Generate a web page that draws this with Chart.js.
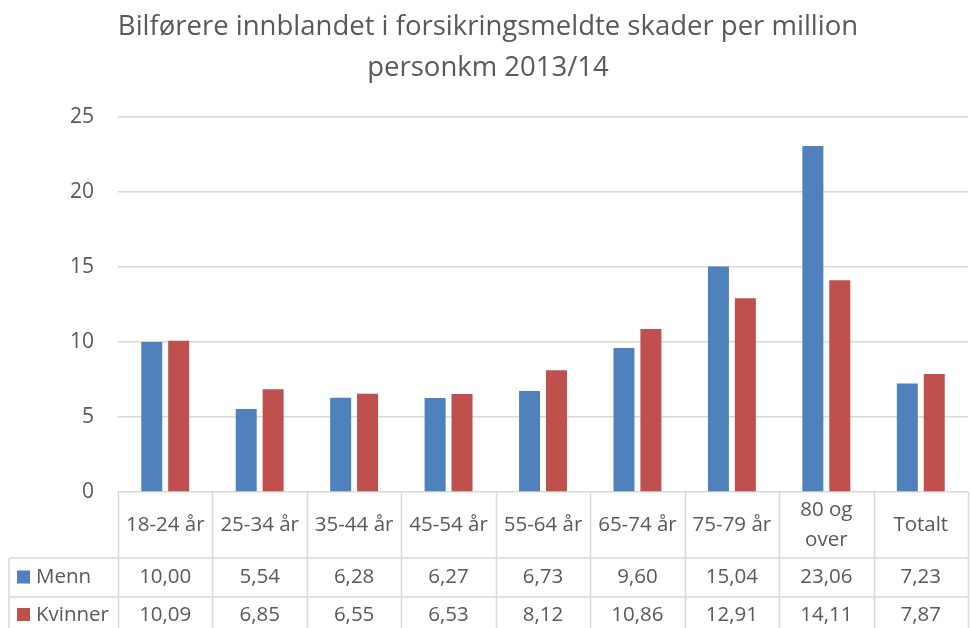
<!DOCTYPE html>
<html>
<head>
<meta charset="utf-8">
<script src="https://cdn.jsdelivr.net/npm/chart.js@4/dist/chart.umd.min.js"></script>
<style>
  html, body { margin: 0; padding: 0; background: #fff; }
  #wrap { width: 971px; height: 628px; }
</style>
</head>
<body>
<div id="wrap"><canvas id="skadeChart" width="971" height="628"></canvas></div>
<script>
const categories = ['18-24 år', '25-34 år', '35-44 år', '45-54 år', '55-64 år', '65-74 år', '75-79 år', ['80 og', 'over'], 'Totalt'];
const menn = [10.00, 5.54, 6.28, 6.27, 6.73, 9.60, 15.04, 23.06, 7.23];
const kvinner = [10.09, 6.85, 6.55, 6.53, 8.12, 10.86, 12.91, 14.11, 7.87];
const seriesNames = ['Menn', 'Kvinner'];
const titleLines = ['Bilførere innblandet i forsikringsmeldte skader per million', 'personkm 2013/14'];

const FONT = '"Open Sans", Lato, sans-serif';
const TEXT = '#595959';
const LINE = '#d9d9d9';

function fmt(v) {
    return v.toFixed(2).replace('.', ',');
}

// title + data table under the plot
const tablePlugin = {
    id: 'dataTable',
    afterDraw(chart) {
        const ctx = chart.ctx;
        const x = chart.scales.x;
        const area = chart.chartArea;
        const n = categories.length;
        const colW = (area.right - area.left) / n;
        const top = area.bottom;
        const row1 = top + 66;
        const row2 = row1 + 39;
        const bottom = chart.height;
        const leftEdge = 9;

        ctx.save();
        ctx.fillStyle = TEXT;
        ctx.textAlign = 'center';
        ctx.textBaseline = 'middle';
        ctx.font = '27.5px ' + FONT;
        ctx.fillText(titleLines[0], 488, 27);
        ctx.fillText(titleLines[1], 488, 68);

        ctx.strokeStyle = LINE;
        ctx.lineWidth = 1.5;
        ctx.beginPath();
        for (let i = 0; i <= n; i++) {
            const px = Math.round(area.left + i * colW) + 0.5;
            ctx.moveTo(px, top);
            ctx.lineTo(px, bottom);
        }
        ctx.moveTo(leftEdge, row1);
        ctx.lineTo(leftEdge, bottom);
        ctx.moveTo(leftEdge, row1);
        ctx.lineTo(area.right, row1);
        ctx.moveTo(leftEdge, row2);
        ctx.lineTo(area.right, row2);
        ctx.stroke();

        ctx.font = '20.5px ' + FONT;
        ctx.fillStyle = TEXT;
        categories.forEach(function(c, i) {
            const cx = x.getPixelForValue(i);
            const cy = (top + row1) / 2;
            if (Array.isArray(c)) {
                ctx.fillText(c[0], cx, cy - 15);
                ctx.fillText(c[1], cx, cy + 15);
            } else {
                ctx.fillText(c, cx, cy);
            }
            ctx.fillText(fmt(menn[i]), cx, (row1 + row2) / 2);
            ctx.fillText(fmt(kvinner[i]), cx, row2 + 18);
        });

        const rows = [[seriesNames[0], '#4F81BD', (row1 + row2) / 2], [seriesNames[1], '#C0504D', row2 + 18]];
        rows.forEach(function(r) {
            ctx.fillStyle = r[1];
            ctx.fillRect(17, r[2] - 7, 13, 13);
            ctx.fillStyle = TEXT;
            ctx.textAlign = 'left';
            ctx.fillText(r[0], 36, r[2]);
        });
        ctx.restore();
    }
};

const ctx = document.getElementById('skadeChart').getContext('2d');
const skadeChart = new Chart(ctx, {
    type: 'bar',
    data: {
        labels: categories,
        datasets: [{
            label: seriesNames[0],
            data: menn,
            backgroundColor: '#4F81BD',
            barPercentage: 0.78,
            categoryPercentage: 0.57
        }, {
            label: seriesNames[1],
            data: kvinner,
            backgroundColor: '#C0504D',
            barPercentage: 0.78,
            categoryPercentage: 0.57
        }]
    },
    options: {
        responsive: false,
        animation: false,
        layout: {
            padding: { top: 117, bottom: 136, left: 0, right: 3 }
        },
        plugins: {
            legend: { display: false },
            title: { display: false },
            tooltip: { enabled: false }
        },
        scales: {
            x: {
                display: false
            },
            y: {
                min: 0,
                max: 25,
                ticks: {
                    stepSize: 5,
                    color: TEXT,
                    font: { family: FONT, size: 21 },
                    padding: 24
                },
                grid: {
                    color: LINE,
                    lineWidth: 1.5,
                    drawTicks: false
                },
                border: { display: false },
                afterFit: function(scale) {
                    scale.width = 118;
                }
            }
        }
    },
    plugins: [tablePlugin]
});
</script>
</body>
</html>
